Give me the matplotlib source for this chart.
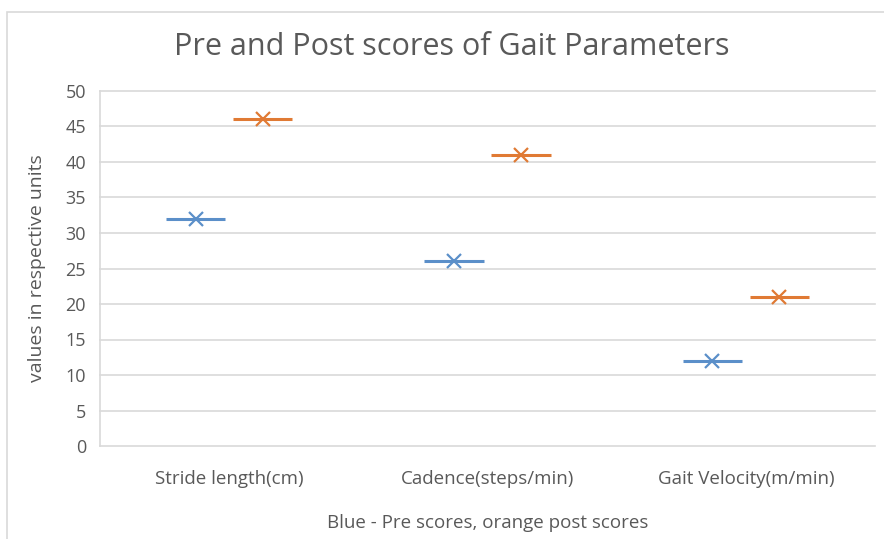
import matplotlib
matplotlib.use('Agg')
import matplotlib.pyplot as plt
from matplotlib.patches import Rectangle

categories = ["Stride length(cm)", "Cadence(steps/min)", "Gait Velocity(m/min)"]
pre_scores = [32, 26, 12]
post_scores = [46, 41, 21]
yticks = [0, 5, 10, 15, 20, 25, 30, 35, 40, 45, 50]

plt.rcParams['font.family'] = ['Open Sans', 'DejaVu Sans']
blue = '#5b8fc9'
orange = '#e07a34'
gray = '#595959'
light = '#d9d9d9'

fig = plt.figure(figsize=(8.84, 5.39), dpi=100)
# outer chart frame (runs off the right/bottom edges of the image)
fig.patches.append(Rectangle((7 / 884, -10 / 539), 890 / 884, 537 / 539,
                             transform=fig.transFigure, fill=False,
                             edgecolor=light, linewidth=1.2))
ax = fig.add_axes([100 / 884, 93 / 539, 775 / 884, 355 / 539])

x = range(len(categories))
off, half = 0.13, 0.115
for i in x:
    ax.hlines(pre_scores[i], i - off - half, i - off + half, color=blue, lw=2.2, zorder=3)
    ax.hlines(post_scores[i], i + off - half, i + off + half, color=orange, lw=2.2, zorder=3)
ax.plot([i - off for i in x], pre_scores, 'x', color=blue, ms=10, mew=1.6, zorder=4)
ax.plot([i + off for i in x], post_scores, 'x', color=orange, ms=10, mew=1.6, zorder=4)

ax.set_xlim(-0.5, len(categories) - 0.5)
ax.set_ylim(0, 50)
ax.set_yticks(yticks)
ax.set_xticks(list(x))
ax.set_xticklabels(categories)
ax.grid(axis='y', color=light, lw=1.2)
for gl in ax.get_ygridlines():
    gl.set_clip_on(False)
ax.set_axisbelow(True)
for s in ax.spines.values():
    s.set_visible(False)
ax.spines['left'].set_visible(True)
ax.spines['left'].set_color(light)
ax.spines['left'].set_linewidth(1.2)
ax.tick_params(length=0, colors=gray)
ax.tick_params(axis='x', labelsize=13.5, pad=17)
ax.tick_params(axis='y', labelsize=13, pad=10)

ax.set_ylabel("values in respective units", color=gray, fontsize=14, labelpad=14)
ax.set_xlabel("Blue - Pre scores, orange post scores", color=gray, fontsize=13.5, labelpad=19)
fig.text(452 / 884, 1 - 47 / 539, "Pre and Post scores of Gait Parameters",
         ha='center', va='center', fontsize=22, color=gray)

fig.savefig('out.png', dpi=100)
